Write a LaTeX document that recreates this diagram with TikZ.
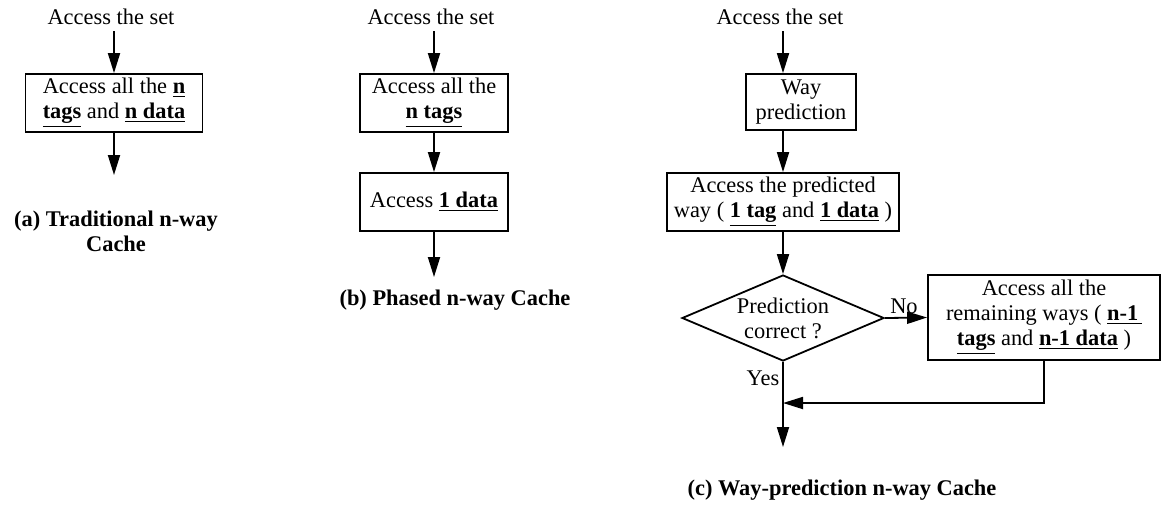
\documentclass[tikz,border=0pt]{standalone}
\usepackage{fontspec}
\setmainfont{Liberation Serif}
\usetikzlibrary{arrows.meta,shapes.geometric}
\newcommand\ulb[1]{\underline{\textbf{#1}}}
\begin{document}
\begin{tikzpicture}[x=0.5pt,y=-0.5pt,
  every node/.style={font=\fontsize{11.2pt}{12.5pt}\selectfont, inner sep=0pt, align=center},
  box/.style 2 args={draw, line width=0.9pt, minimum width=#1, minimum height=#2},
  captext/.style={font=\fontsize{11.2pt}{12.5pt}\selectfont\bfseries},
  arr/.style={line width=0.9pt, -{Triangle[length=10pt,width=6pt]}},
  ln/.style={line width=0.9pt}]
\useasboundingbox (0,0) rectangle (1161,505);

% (a)
\node (ta) at (111,17) {Access the set};
\node[box={88.5pt}{29pt}] (a1) at (114,103) {Access all the \ulb{n}\\\ulb{tags} and \ulb{n data}};
\coordinate (aend) at (114,175);
\node[captext] (capa) at (116,231) {(a) Traditional n-way\\Cache};
\draw[arr, shorten <=3pt] (ta.south -| a1.north) -- (a1.north);
\draw[arr] (a1.south) -- (aend);

% (b)
\node (tb) at (431,17) {Access the set};
\node[box={74pt}{29pt}] (b1) at (434,103) {Access all the\\\ulb{n tags}};
\node[box={74pt}{29pt}] (b2) at (434,202) {Access \ulb{1 data}};
\coordinate (bend) at (434,277);
\node[captext] (capb) at (455,300) {(b) Phased n-way Cache};
\draw[arr, shorten <=3pt] (tb.south -| b1.north) -- (b1.north);
\draw[arr] (b1.south) -- (b2.north);
\draw[arr] (b2.south) -- (bend);

% (c)
\node (tc) at (780,17) {Access the set};
\node[box={116pt}{29pt}] (c2) at (783,202) {Access the predicted\\way ( \ulb{1 tag} and \ulb{1 data} )};
\node[box={55pt}{28pt}] (c1) at (801,102) {Way\\prediction};
\node[diamond, draw, line width=0.9pt, minimum width=101pt, minimum height=43pt] (d) at (783,318) {};
\node (dt) at (d.center) {Prediction\\correct ?};
\node[box={116pt}{42.5pt}] (c4) at (1044,317.5) {Access all the\\remaining ways ( \ulb{n-1\,}\\\ulb{tags} and \ulb{n-1 data} )};
\coordinate (junc) at (783,403);
\coordinate (cend) at (783,447);
\node (no) at (904,306) {No};
\node (yes) at (763,378) {Yes};
\node[captext] (capc) at (842,490) {(c) Way-prediction n-way Cache};
\draw[arr, shorten <=3pt] (tc.south -| c2.north) -- (c1.north -| c2.north);
\draw[arr] (c1.south -| c2.north) -- (c2.north);
\draw[arr] (c2.south) -- (d.north);
\draw[arr] (d.east) -- (c4.west);
\draw[arr] (d.south) -- (cend);
\draw[arr] (c4.south) |- (junc);
\end{tikzpicture}
\end{document}
